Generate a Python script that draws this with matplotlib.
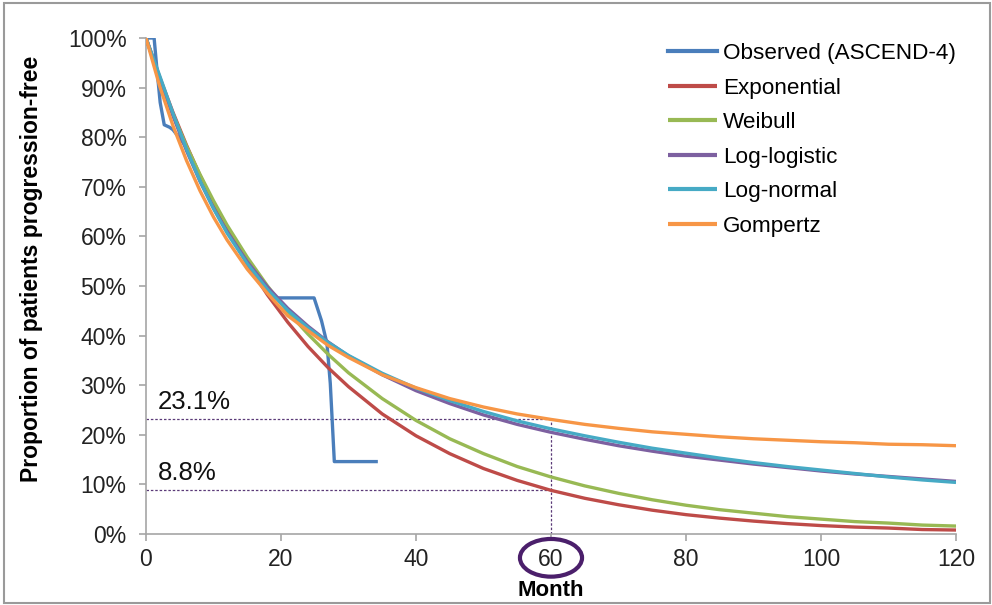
import matplotlib
matplotlib.use("Agg")
import matplotlib.pyplot as plt
from matplotlib.patches import Ellipse, Rectangle
from matplotlib.ticker import FuncFormatter

plt.rcParams['font.family'] = ['Liberation Sans', 'DejaVu Sans']

# Observed Kaplan-Meier (ASCEND-4), months vs proportion (%)
obs_t = [0, 1.2, 1.6, 2.1, 2.7, 3.5, 4, 6, 8, 10, 12, 15, 18, 18.8, 24.9, 26.0, 26.8, 27.3, 27.9, 34.1]
obs_s = [100, 100, 94, 87, 82.5, 82, 81.5, 78, 72, 66.5, 61.5, 55, 49, 47.6, 47.6, 43, 38.5, 30.4, 14.6, 14.6]

# Fitted model curves
t = [0, 2, 4, 6, 8, 10, 12, 15, 18, 21, 24, 27, 30, 35, 40, 45, 50, 55, 60,
     65, 70, 75, 80, 85, 90, 95, 100, 105, 110, 115, 120]
exponential = [100, 92.2, 85.0, 78.4, 72.3, 66.7, 61.5, 54.4, 48.2, 42.7, 37.8, 33.5, 29.7, 24.2, 19.8,
               16.2, 13.2, 10.8, 8.8, 7.2, 5.9, 4.8, 3.9, 3.2, 2.6, 2.1, 1.7, 1.4, 1.2, 0.9, 0.8]
weibull = [100, 91.7, 84.6, 78.2, 72.5, 67.2, 62.3, 55.8, 50.0, 44.8, 40.3, 36.2, 32.5, 27.3, 22.9,
           19.2, 16.2, 13.6, 11.5, 9.7, 8.2, 6.9, 5.8, 4.9, 4.2, 3.5, 3.0, 2.5, 2.2, 1.8, 1.6]
loglogistic = [100, 92.1, 84.3, 77.3, 71.1, 65.7, 61.0, 54.9, 49.8, 45.5, 41.9, 38.7, 35.9, 32.1, 28.9,
               26.3, 24.0, 22.1, 20.5, 19.1, 17.8, 16.7, 15.7, 14.9, 14.1, 13.4, 12.7, 12.1, 11.6, 11.1, 10.6]
lognormal = [100, 92.5, 84.8, 77.6, 71.2, 65.6, 60.7, 54.5, 49.3, 45.1, 41.6, 38.6, 36.0, 32.4, 29.4,
             26.9, 24.7, 22.8, 21.2, 19.8, 18.5, 17.3, 16.3, 15.3, 14.4, 13.6, 12.9, 12.2, 11.5, 10.9, 10.4]
gompertz = [100, 90.4, 82.3, 75.3, 69.2, 63.9, 59.3, 53.4, 48.5, 44.0, 41.0, 38.0, 35.6, 32.1, 29.5,
            27.3, 25.6, 24.2, 23.1, 22.1, 21.3, 20.6, 20.1, 19.6, 19.2, 18.9, 18.6, 18.4, 18.1, 18.0, 17.8]

series_names = ["Observed (ASCEND-4)", "Exponential", "Weibull", "Log-logistic", "Log-normal", "Gompertz"]
colors = ["#4a7ebb", "#be4b48", "#98b954", "#7d60a0", "#46aac5", "#f79646"]

x_ticks = [0, 20, 40, 60, 80, 100, 120]
y_ticks = [0, 10, 20, 30, 40, 50, 60, 70, 80, 90, 100]

mark_t = 60
mark_hi = 23.1
mark_lo = 8.8

fig = plt.figure(figsize=(9.92, 6.05), dpi=100)
ax = fig.add_axes([146/992, 1-534/605, (956-146)/992, (534-38)/605])

lw = 2.4
ax.plot(obs_t, obs_s, color=colors[0], lw=lw, label=series_names[0], zorder=2, solid_joinstyle='round')
for vals, name, c in zip([exponential, weibull, loglogistic, lognormal, gompertz], series_names[1:], colors[1:]):
    ax.plot(t, vals, color=c, lw=lw, label=name, zorder=3, solid_capstyle='butt')

ref_c = "#5b3a78"
ax.plot([0, mark_t], [mark_hi, mark_hi], color=ref_c, lw=0.9, ls=(0, (2, 1.5)), zorder=1)
ax.plot([0, mark_t], [mark_lo, mark_lo], color=ref_c, lw=0.9, ls=(0, (2, 1.5)), zorder=1)
ax.plot([mark_t, mark_t], [0, mark_hi], color=ref_c, lw=0.9, ls=(0, (2, 1.5)), zorder=1)
ax.text(1.8, mark_hi + 1.0, f"{mark_hi}%", fontsize=18.5, color="#111111", va='bottom', ha='left')
ax.text(1.8, mark_lo + 1.0, f"{mark_lo}%", fontsize=18.5, color="#111111", va='bottom', ha='left')

ax.add_patch(Ellipse((mark_t, -4.8), 9.2, 7.6, transform=ax.transData, fill=False,
                     edgecolor="#4b1f6b", lw=3, clip_on=False, zorder=5))

ax.set_xlim(0, 120)
ax.set_ylim(0, 100)
ax.set_xticks(x_ticks)
ax.set_yticks(y_ticks)
ax.yaxis.set_major_formatter(FuncFormatter(lambda v, p: f"{int(v)}%"))
for s in ["top", "right"]:
    ax.spines[s].set_visible(False)
for s in ["left", "bottom"]:
    ax.spines[s].set_color("#a6a6a6")
    ax.spines[s].set_linewidth(1.2)
ax.tick_params(axis='both', colors="#a6a6a6", length=5, width=1.2, labelsize=16.5, labelcolor="#222222")
ax.tick_params(axis='y', pad=9)
ax.tick_params(axis='x', pad=5)
ax.set_xlabel("Month", fontsize=16, fontweight='bold', va='top')
ax.xaxis.set_label_coords(0.5, (534-580)/496)
ax.set_ylabel("Proportion of patients progression-free", fontsize=16.5, fontweight='bold')
ax.yaxis.set_label_coords((43-146)/810, 0.535)

leg = ax.legend(loc='upper left', bbox_to_anchor=(0.63, 1.012), frameon=False, fontsize=16.2,
                handlelength=2.2, handletextpad=0.25, labelspacing=0.6, borderaxespad=0.1)
for line in leg.get_lines():
    line.set_linewidth(3)

fig.patches.append(Rectangle((4/992, 2/605), 986/992, 600/605, transform=fig.transFigure,
                             fill=False, edgecolor="#9a9a9a", lw=1.5))

fig.savefig("out.png", dpi=100)
